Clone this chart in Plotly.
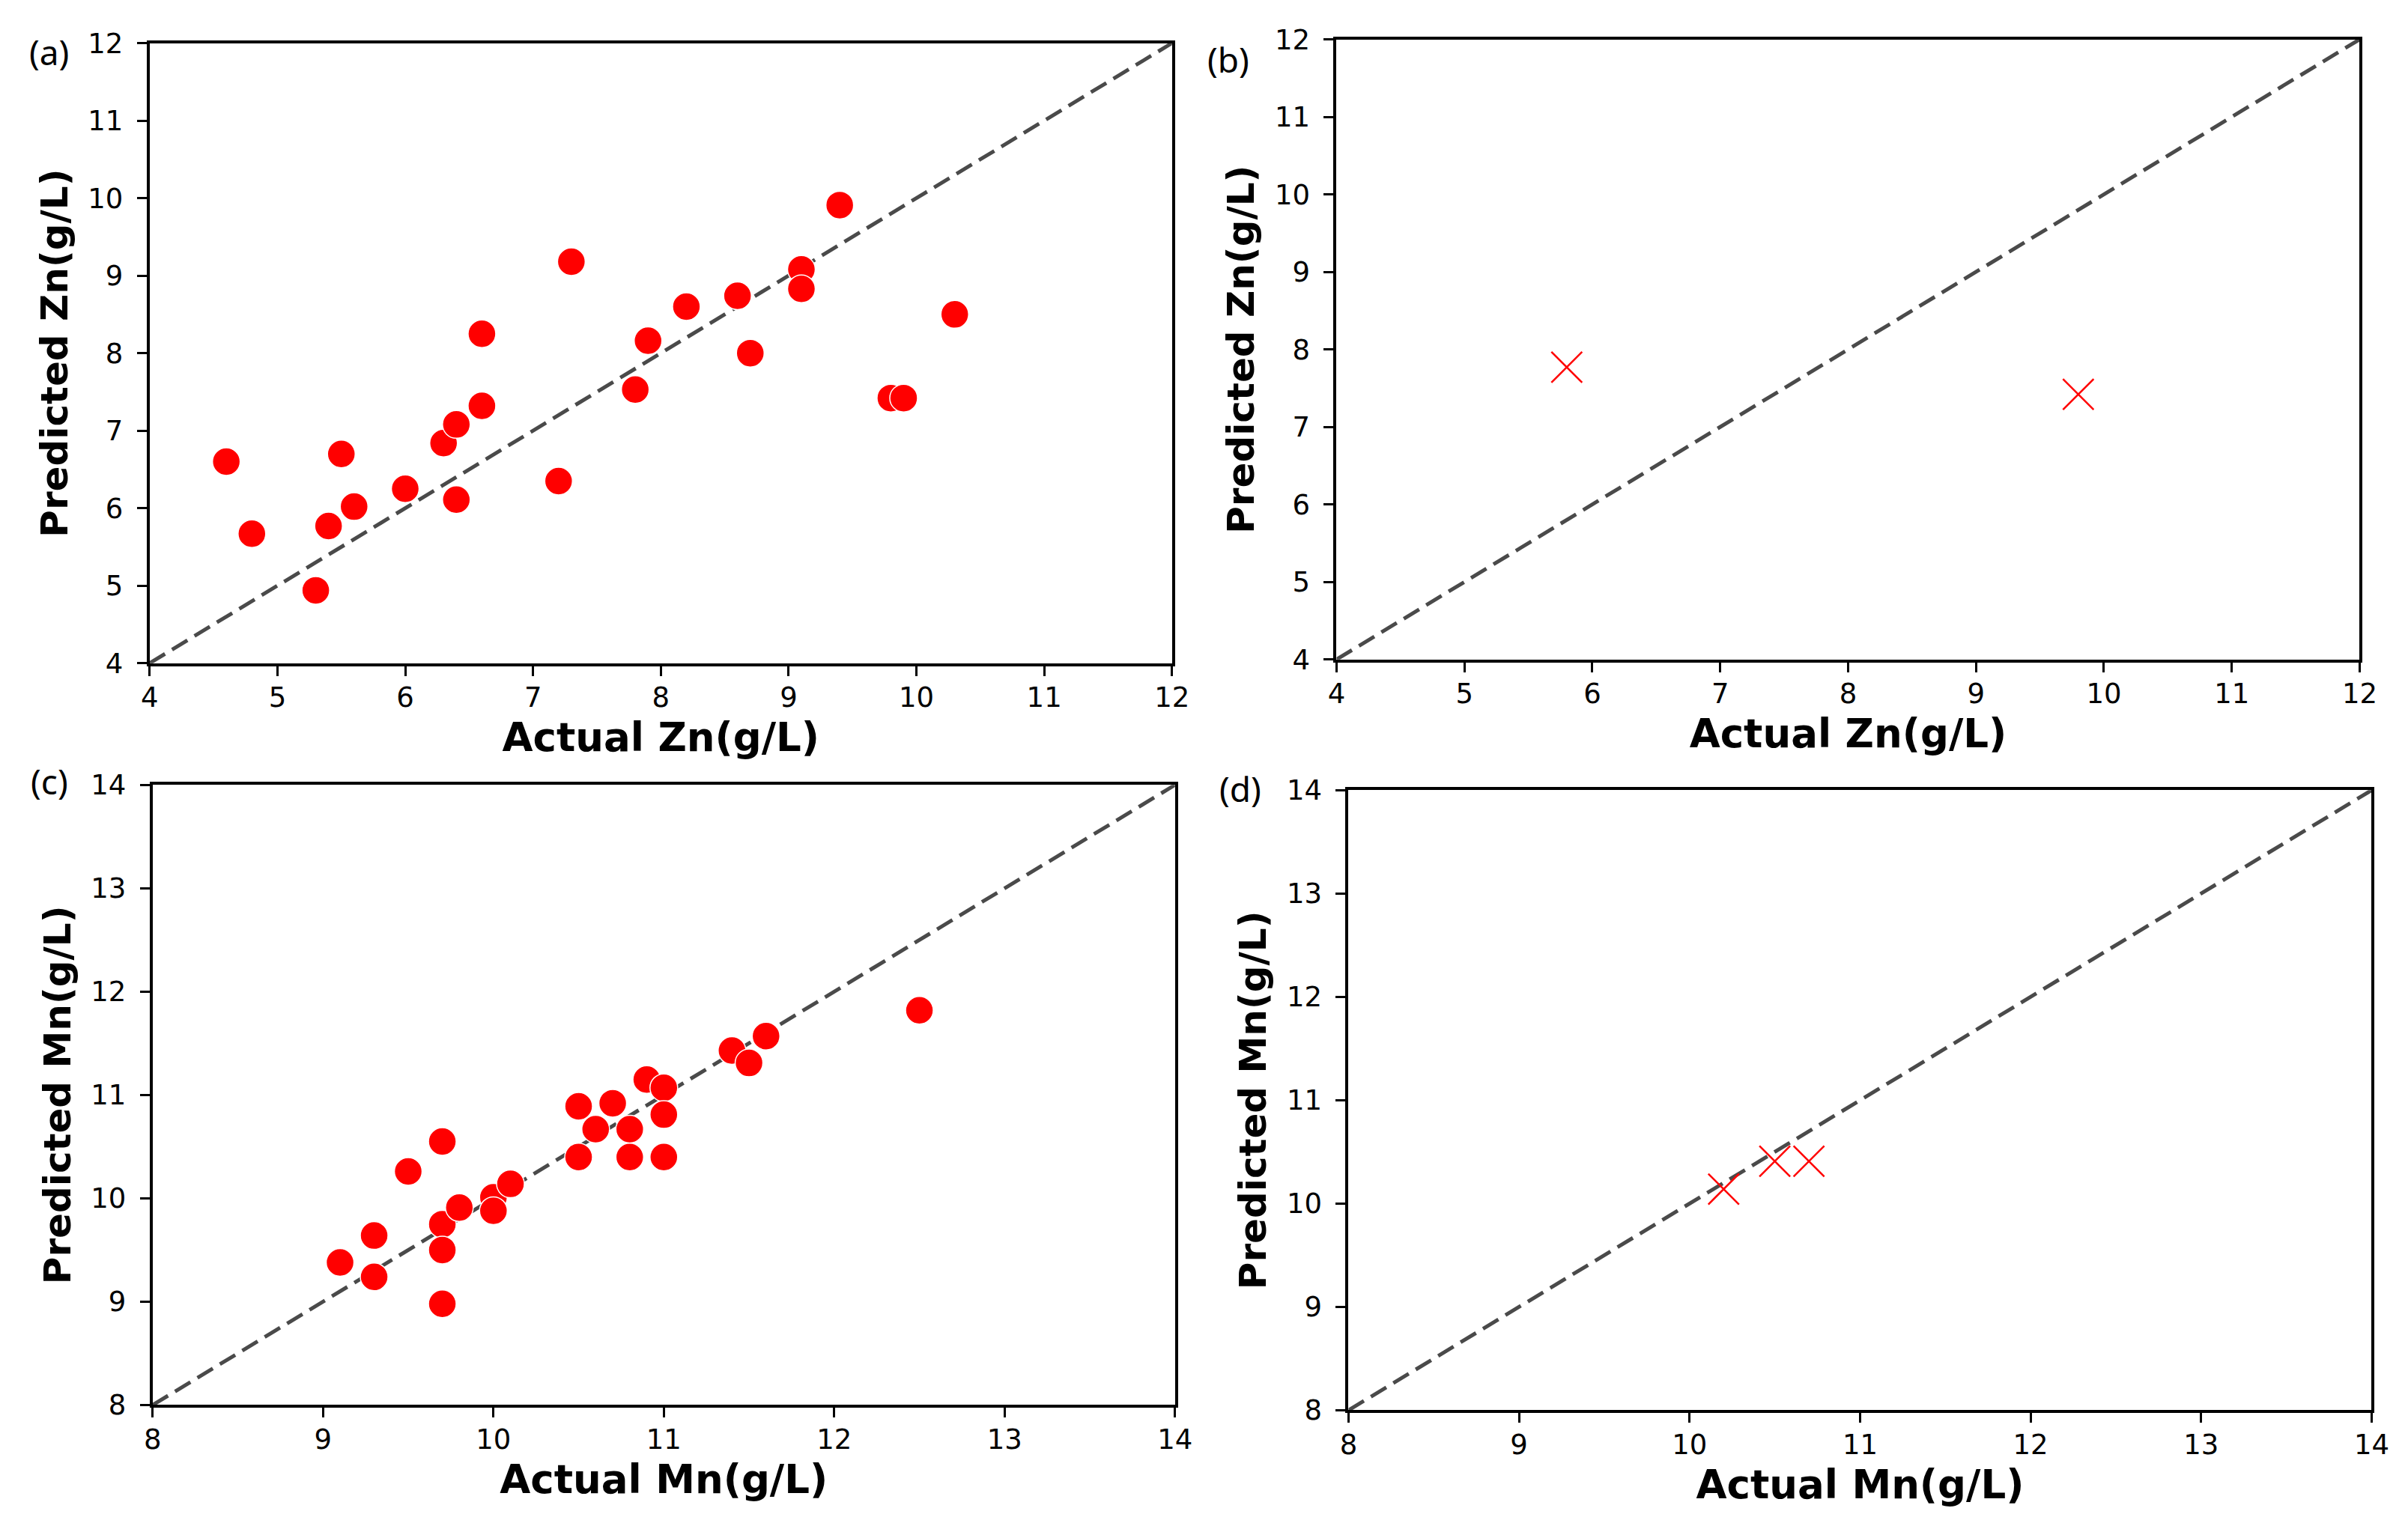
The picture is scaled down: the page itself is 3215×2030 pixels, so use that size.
import plotly.graph_objects as go

# (a) Zn, training set
zn_train_actual = [4.6, 4.8, 5.3, 5.4, 5.5, 5.6, 6.0, 6.3, 6.4, 6.4, 6.6, 6.6, 7.2, 7.3,
                   7.8, 7.9, 8.2, 8.6, 8.7, 9.1, 9.1, 9.4, 9.8, 9.9, 10.3]
zn_train_pred = [6.60, 5.67, 4.94, 5.77, 6.70, 6.02, 6.25, 6.84, 7.08, 6.11, 7.32, 8.25, 6.35, 9.18,
                 7.53, 8.16, 8.60, 8.74, 8.00, 9.08, 8.83, 9.91, 7.42, 7.42, 8.50]

# (b) Zn, test set
zn_test_actual = [5.8, 9.8]
zn_test_pred = [7.77, 7.42]

# (c) Mn, training set
mn_train_actual = [9.1, 9.3, 9.3, 9.5, 9.7, 9.7, 9.7, 9.7, 9.8, 10.0, 10.0, 10.1, 10.5,
                   10.5, 10.6, 10.7, 10.8, 10.8, 10.9, 11.0, 11.0, 11.0, 11.4, 11.5, 11.6, 12.5]
mn_train_pred = [9.38, 9.64, 9.24, 10.26, 10.55, 9.75, 9.50, 8.98, 9.91, 10.01, 9.88, 10.14, 10.89,
                 10.40, 10.67, 10.92, 10.67, 10.40, 11.15, 11.07, 10.81, 10.40, 11.43, 11.31, 11.57, 11.82]

# (d) Mn, test set
mn_test_actual = [10.2, 10.5, 10.7]
mn_test_pred = [10.14, 10.41, 10.41]

zn_range = [4, 12]
mn_range = [8, 14]
panel_labels = ["(a)", "(b)", "(c)", "(d)"]

# figure sized so the page (with the 8px body margin) fits the window
W, H = 3199, 2014
OFF = 8


def px(xp):
    # target pixel in the picture -> paper x (small correction for capture scaling)
    xp = 1.0099 * xp - 8.1
    return (xp - OFF) / W


def py(yp):
    yp = 1.0195 * yp - 19.9
    return 1 - (yp - OFF) / H


# plot boxes in picture pixels: left, right, top, bottom
boxes = [
    (196, 1563, 56, 886),
    (1783, 3151, 51, 881),
    (200, 1567, 1049, 1879),
    (1799, 3167, 1056, 1886),
]
label_px = [(62, 67), (1638, 77), (62, 1044), (1654, 1054)]

panels = [
    (zn_train_actual, zn_train_pred, zn_range, "circle", "Zn"),
    (zn_test_actual, zn_test_pred, zn_range, "x-thin", "Zn"),
    (mn_train_actual, mn_train_pred, mn_range, "circle", "Mn"),
    (mn_test_actual, mn_test_pred, mn_range, "x-thin", "Mn"),
]

tick_font = dict(family="DejaVu Sans", size=37, color="black")

fig = go.Figure()

for i, (xs, ys, rng, sym, el) in enumerate(panels):
    n = "" if i == 0 else str(i + 1)
    # 1:1 reference line
    fig.add_trace(go.Scatter(
        x=rng, y=rng, mode="lines",
        line=dict(color="#4a4a4a", width=5, dash="24px,11px"),
        xaxis="x" + n, yaxis="y" + n, showlegend=False,
    ))
    if sym == "circle":
        marker = dict(symbol="circle", size=37, color="#ff0000",
                      line=dict(color="white", width=1.5))
    else:
        marker = dict(symbol="x-thin", size=41, color="#ff0000",
                      line=dict(color="#ff0000", width=2.5))
    fig.add_trace(go.Scatter(
        x=xs, y=ys, mode="markers", marker=marker,
        xaxis="x" + n, yaxis="y" + n, showlegend=False,
    ))

    l, r, t, b = boxes[i]
    common = dict(
        showline=True, linecolor="black", linewidth=4, mirror=True,
        showgrid=False, zeroline=False, ticks="outside", ticklen=13,
        tickwidth=3, tickcolor="black", tickfont=tick_font, dtick=1,
        range=rng,
    )
    fig.layout["xaxis" + n] = dict(
        common, domain=[px(l), px(r)], anchor="y" + n, ticklabelstandoff=-3,
        title=dict(text="Actual " + el + "(g/L)",
                   font=dict(family="DejaVu Sans", size=53, color="black", weight="bold"),
                   standoff=15),
    )
    fig.layout["yaxis" + n] = dict(
        common, domain=[py(b), py(t)], anchor="x" + n, ticklabelstandoff=11,
        title=dict(text="Predicted " + el + "(g/L)",
                   font=dict(family="DejaVu Sans", size=50, color="black", weight="bold"),
                   standoff=12),
    )
    lx, ly = label_px[i]
    fig.add_annotation(x=px(lx), y=py(ly), xref="paper", yref="paper", text=panel_labels[i],
                       showarrow=False, xanchor="center", yanchor="middle",
                       font=dict(family="Noto Sans", size=46, color="black"))

fig.update_layout(
    width=W, height=H,
    margin=dict(l=0, r=0, t=0, b=0),
    paper_bgcolor="white", plot_bgcolor="white",
)

fig.write_html("out.html")
